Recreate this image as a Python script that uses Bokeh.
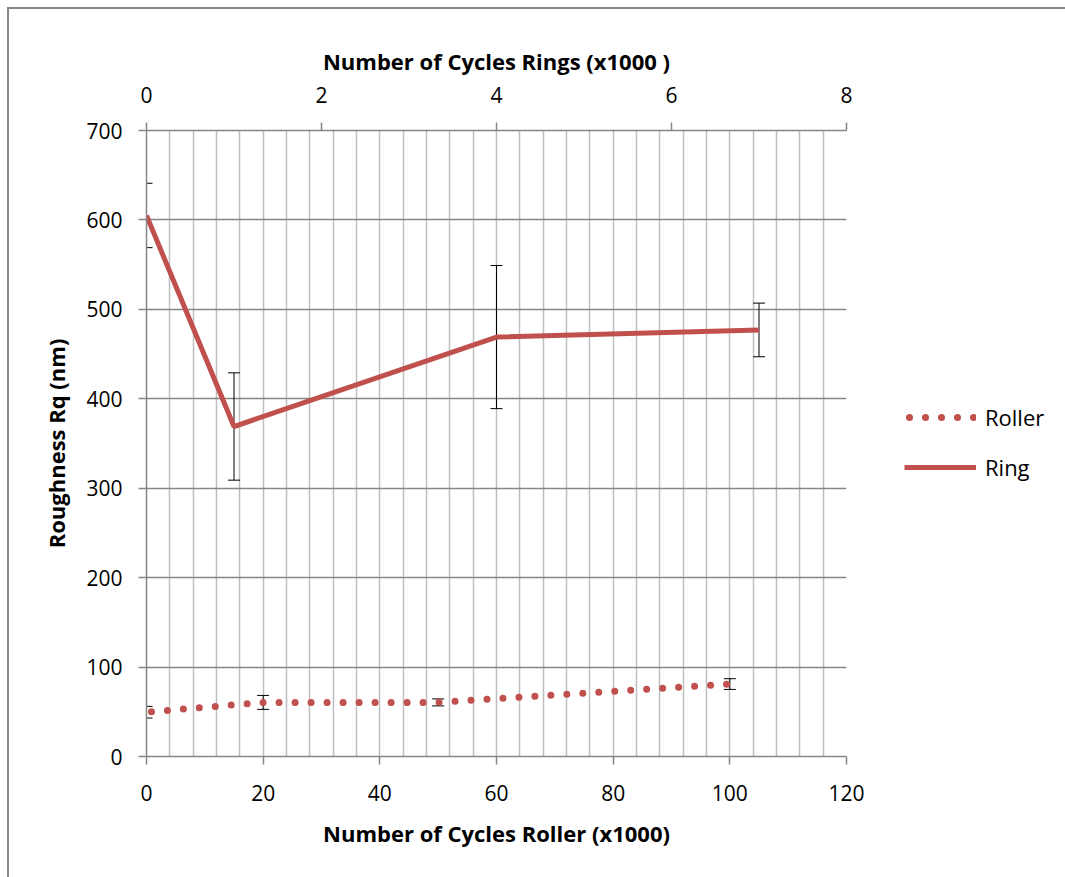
from bokeh.plotting import figure
from bokeh.models import (Range1d, LinearAxis, FixedTicker, Whisker, TeeHead,
                          ColumnDataSource, Legend, LegendItem, Grid)
from bokeh.embed import file_html
from bokeh.resources import INLINE

# Roller: cycles (x1000) and Rq roughness (nm) with error half-widths
roller_cycles = [0, 20, 50, 100]
roller_rq = [49.5, 60.5, 60.5, 81.0]
roller_err = [6.5, 7.8, 3.9, 6.0]

# Ring: cycles (x1000) and Rq roughness (nm) with error half-widths
ring_cycles = [0, 1, 4, 7]
ring_rq = [605, 369, 469, 477]
ring_err = [36, 60, 80, 30]

roller_ticks = [0, 20, 40, 60, 80, 100, 120]
ring_ticks = [0, 2, 4, 6, 8]
rq_ticks = [0, 100, 200, 300, 400, 500, 600, 700]
vgrid_ticks = list(range(0, 121, 4))

RED = "#C0504D"
AXIS = "#868686"
GRID_V = "#BFBFBF"
FONT = "Open Sans"

p = figure(frame_width=700, frame_height=626,
           min_border_left=146, min_border_right=219,
           min_border_top=130, min_border_bottom=121,
           x_range=Range1d(0, 120), y_range=Range1d(0, 700),
           x_axis_location=None, y_axis_location=None,
           output_backend="svg", toolbar_location=None)
p.extra_x_ranges = {"rings": Range1d(0, 8)}

p.border_fill_color = None
p.background_fill_color = "white"
p.outline_line_color = None
p.xgrid.visible = False
p.ygrid.visible = False
# chart-area frame along the top and left edges of the page
p.styles = {
    "background": ("linear-gradient(#868686,#868686) 7px 7px / 2px 100% no-repeat, "
                   "linear-gradient(#868686,#868686) 7px 7px / 100% 2px no-repeat, white"),
}

def style_axis(ax, label_standoff, title_standoff):
    ax.axis_line_color = AXIS
    ax.axis_line_width = 1.5
    ax.major_tick_line_color = AXIS
    ax.major_tick_line_width = 1.5
    ax.major_tick_out = 8
    ax.major_tick_in = 0
    ax.minor_tick_out = 0
    ax.minor_tick_in = 0
    ax.major_label_text_font = FONT
    ax.major_label_text_font_size = "21px"
    ax.major_label_text_color = "black"
    ax.major_label_standoff = label_standoff
    ax.axis_label_text_font = FONT
    ax.axis_label_text_font_size = "22px"
    ax.axis_label_text_font_style = "bold"
    ax.axis_label_text_color = "black"
    ax.axis_label_standoff = title_standoff

bottom = LinearAxis(ticker=FixedTicker(ticks=roller_ticks),
                    axis_label="Number of Cycles Roller (x1000)")
style_axis(bottom, 20, 14)
p.add_layout(bottom, "below")

top = LinearAxis(x_range_name="rings", ticker=FixedTicker(ticks=ring_ticks),
                 axis_label="Number of Cycles Rings (x1000 )")
style_axis(top, 20, 8)
p.add_layout(top, "above")

left = LinearAxis(ticker=FixedTicker(ticks=rq_ticks), axis_label="Roughness Rq (nm)")
style_axis(left, 16, 12)
p.add_layout(left, "left")

vgrid = Grid(dimension=0, ticker=FixedTicker(ticks=vgrid_ticks),
             grid_line_color=GRID_V, grid_line_width=1.5)
hgrid = Grid(dimension=1, ticker=FixedTicker(ticks=rq_ticks),
             grid_line_color=AXIS, grid_line_width=1.5)
p.add_layout(vgrid)
p.add_layout(hgrid)

roller_src = ColumnDataSource(dict(
    x=roller_cycles, y=roller_rq,
    upper=[v + e for v, e in zip(roller_rq, roller_err)],
    lower=[v - e for v, e in zip(roller_rq, roller_err)],
))
ring_src = ColumnDataSource(dict(
    x=ring_cycles, y=ring_rq,
    upper=[v + e for v, e in zip(ring_rq, ring_err)],
    lower=[v - e for v, e in zip(ring_rq, ring_err)],
))

r_roller = p.line("x", "y", source=roller_src, line_color=RED, line_width=7,
                  line_dash="0 16", line_dash_offset=11, line_cap="round")
r_ring = p.line("x", "y", source=ring_src, x_range_name="rings",
                line_color=RED, line_width=5)

for src, rng in ((roller_src, "default"), (ring_src, "rings")):
    w = Whisker(source=src, base="x", upper="upper", lower="lower",
                x_range_name=rng, line_color="black", line_width=1,
                upper_head=TeeHead(size=12, line_color="black", line_width=1),
                lower_head=TeeHead(size=12, line_color="black", line_width=1))
    p.add_layout(w)

legend = Legend(items=[LegendItem(label="Roller", renderers=[r_roller]),
                       LegendItem(label="Ring", renderers=[r_ring])],
                location=(58, 274), orientation="vertical",
                glyph_width=72, glyph_height=24, label_height=24,
                label_standoff=9, spacing=20, padding=0, margin=0,
                border_line_color=None, background_fill_alpha=0,
                label_text_font=FONT, label_text_font_size="22px",
                label_text_color="black")
p.add_layout(legend, "right")

open("out.html", "w").write(file_html(p, INLINE))
